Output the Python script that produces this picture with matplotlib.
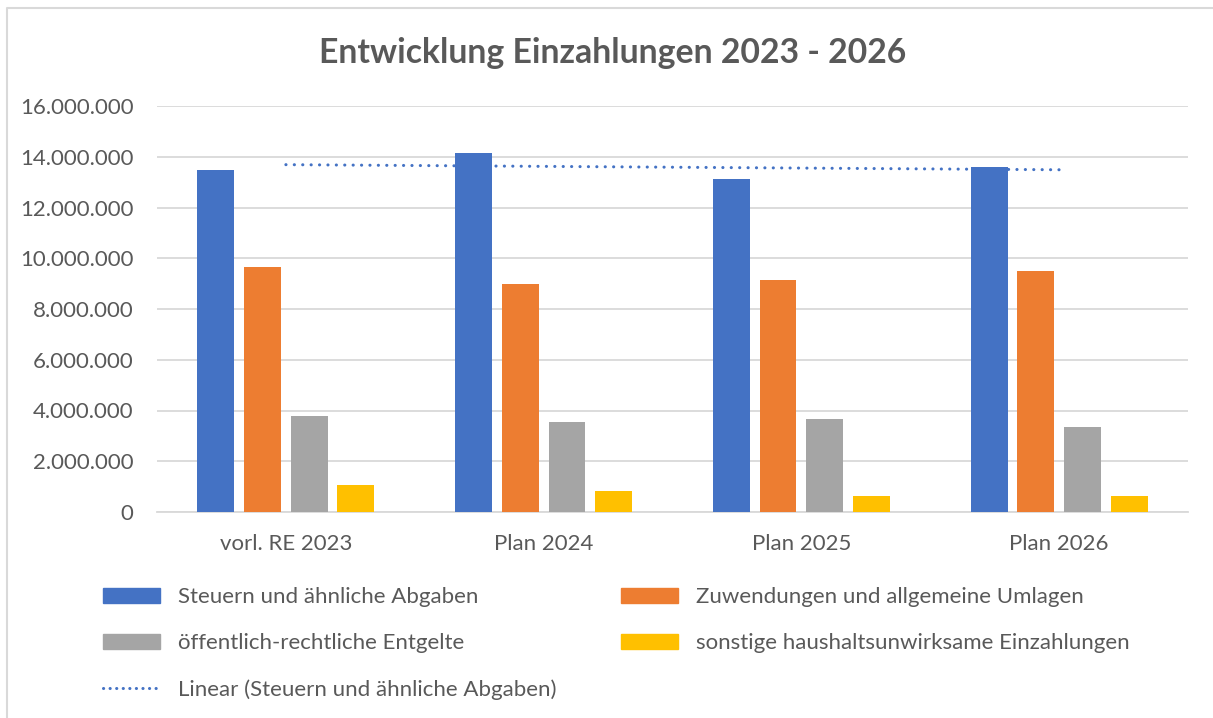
import numpy as np
import matplotlib
matplotlib.use("Agg")
from matplotlib import pyplot as plt
from matplotlib.lines import Line2D
from matplotlib.patches import Patch
from matplotlib.ticker import FuncFormatter

plt.rcParams['font.family'] = ['Lato', 'DejaVu Sans']

categories = ['vorl. RE 2023', 'Plan 2024', 'Plan 2025', 'Plan 2026']
series_names = ['Steuern und ähnliche Abgaben',
                'Zuwendungen und allgemeine Umlagen',
                'öffentlich-rechtliche Entgelte',
                'sonstige haushaltsunwirksame Einzahlungen']
steuern = [13480000, 14150000, 13120000, 13600000]
zuwendungen = [9650000, 8980000, 9140000, 9500000]
entgelte = [3780000, 3550000, 3660000, 3350000]
sonstige = [1060000, 830000, 630000, 630000]
colors = ['#4472C4', '#ED7D31', '#A5A5A5', '#FFC000']

text_col = '#595959'
grid_col = '#D9D9D9'

fig = plt.figure(figsize=(12.13, 7.18), dpi=100)
ax = fig.add_axes([157 / 1213, 1 - 512 / 718, 1031 / 1213, 406 / 718])

x = np.arange(len(categories))
slot = 0.181
width = 0.143
all_series = [steuern, zuwendungen, entgelte, sonstige]
for i, vals in enumerate(all_series):
    ax.bar(x + (i - 1.5) * slot, vals, width, color=colors[i], zorder=3,
           label=series_names[i])

# linear trend of the first series, drawn behind the bars
k, d = np.polyfit(x, steuern, 1)
ax.plot(x, k * x + d, color='#4472C4', lw=2.2,
        linestyle=(0, (0.05, 2.7)), dash_capstyle='round', zorder=2)

ax.set_xlim(-0.5, 3.5)
ax.set_ylim(0, 16000000)
ax.set_yticks(np.arange(0, 16000001, 2000000))
ax.yaxis.set_major_formatter(FuncFormatter(lambda v, p: f'{int(v):,}'.replace(',', '.')))
ax.set_xticks(x)
ax.set_xticklabels(categories)
ax.grid(axis='y', color=grid_col, lw=1.3, zorder=0)
for s in ['top', 'right', 'left']:
    ax.spines[s].set_visible(False)
ax.spines['bottom'].set_color(grid_col)
ax.spines['bottom'].set_linewidth(1.3)
ax.tick_params(axis='both', length=0, labelsize=16, labelcolor=text_col)
ax.tick_params(axis='y', pad=17)
ax.tick_params(axis='x', pad=16)

fig.text(0.505, 1 - 53 / 718, 'Entwicklung Einzahlungen 2023 - 2026', ha='center',
         va='center', fontsize=24.3, fontweight='bold', color=text_col)

handles = [Patch(color=colors[0]), Patch(color=colors[2]),
           Line2D([], [], color='#4472C4', lw=2.2, linestyle=(0, (0.05, 2.1)),
                  dash_capstyle='round'),
           Patch(color=colors[1]), Patch(color=colors[3])]
labels = [series_names[0], series_names[2], 'Linear (Steuern und ähnliche Abgaben)',
          series_names[1], series_names[3]]
fig.legend(handles, labels, ncol=2, loc='upper left',
           bbox_to_anchor=(103 / 1213, 1 - 587 / 718), frameon=False,
           fontsize=16, labelcolor=text_col, handlelength=2.57, handleheight=0.65,
           handletextpad=0.8, columnspacing=2.9, labelspacing=1.18,
           borderpad=0, borderaxespad=0)

# chart-area frame (only top and left visible in the crop)
fig.add_artist(Line2D([7 / 1213, 7 / 1213, 1], [0, 1 - 8 / 718, 1 - 8 / 718],
                      transform=fig.transFigure, color='#D9D9D9', lw=1.5))

fig.savefig('out.png', dpi=100)
